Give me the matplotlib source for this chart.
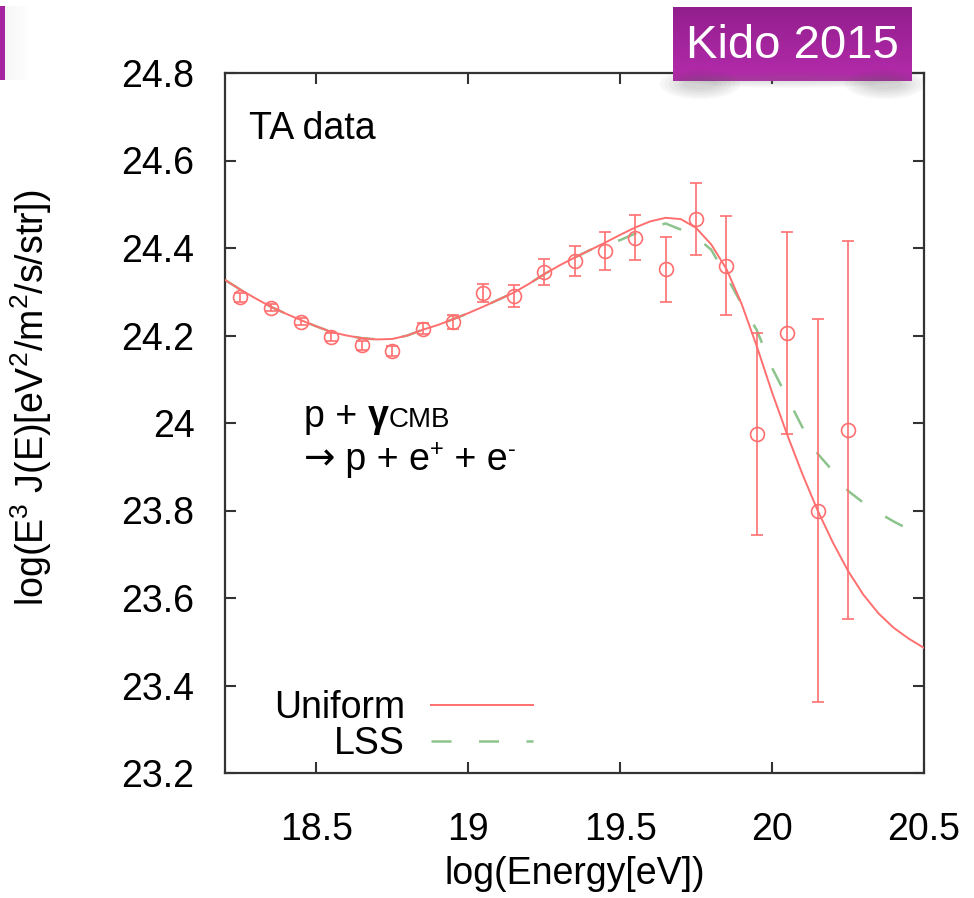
import numpy as np
import matplotlib
matplotlib.use('Agg')
import matplotlib.pyplot as plt
from matplotlib.patches import Rectangle, Ellipse
from matplotlib.transforms import offset_copy

plt.rcParams['font.family'] = ['Liberation Sans', 'DejaVu Sans']
plt.rcParams['mathtext.fontset'] = 'custom'
plt.rcParams['mathtext.rm'] = 'Liberation Sans'
plt.rcParams['mathtext.it'] = 'Liberation Sans:italic'
plt.rcParams['mathtext.bf'] = 'Liberation Sans:bold'

# TA data points (log E, log E^3 J, error)
ta_logE = [18.25, 18.35, 18.45, 18.55, 18.65, 18.75, 18.85, 18.95, 19.05, 19.15,
           19.25, 19.35, 19.45, 19.55, 19.65, 19.75, 19.85, 19.95, 20.05, 20.15, 20.25]
ta_flux = [24.287, 24.263, 24.232, 24.197, 24.178, 24.165, 24.216, 24.232, 24.297, 24.290,
           24.345, 24.370, 24.393, 24.424, 24.351, 24.466, 24.360, 23.975, 24.206, 23.800, 23.984]
ta_err = [0.010, 0.008, 0.009, 0.009, 0.010, 0.012, 0.013, 0.016, 0.020, 0.025,
          0.030, 0.034, 0.043, 0.052, 0.074, 0.082, 0.114, 0.230, 0.230, 0.437, 0.433]

# model curves
model_logE = [18.20, 18.25, 18.30, 18.35, 18.40, 18.45, 18.50, 18.55, 18.60, 18.65,
              18.70, 18.75, 18.80, 18.85, 18.90, 18.95, 19.00, 19.05, 19.10, 19.15,
              19.20, 19.25, 19.30, 19.35, 19.40, 19.45, 19.50, 19.55, 19.60, 19.65,
              19.70, 19.75, 19.80, 19.85, 19.90, 19.95, 20.00, 20.05, 20.10, 20.15,
              20.20, 20.25, 20.30, 20.35, 20.40, 20.45, 20.50]
uniform = [24.327, 24.305, 24.285, 24.266, 24.250, 24.235, 24.221, 24.208, 24.200, 24.194,
           24.191, 24.192, 24.200, 24.213, 24.224, 24.237, 24.251, 24.266, 24.282, 24.298,
           24.318, 24.340, 24.360, 24.378, 24.395, 24.412, 24.430, 24.447, 24.461, 24.469,
           24.466, 24.446, 24.408, 24.352, 24.272, 24.175, 24.070, 23.973, 23.883, 23.800,
           23.727, 23.662, 23.608, 23.565, 23.532, 23.507, 23.486]
lss = [24.327, 24.305, 24.285, 24.266, 24.250, 24.235, 24.221, 24.208, 24.200, 24.194,
       24.191, 24.192, 24.200, 24.213, 24.224, 24.237, 24.251, 24.266, 24.282, 24.298,
       24.318, 24.340, 24.360, 24.378, 24.395, 24.408, 24.418, 24.433, 24.447, 24.456,
       24.442, 24.425, 24.396, 24.335, 24.272, 24.212, 24.126, 24.058, 23.990, 23.930,
       23.890, 23.845, 23.818, 23.795, 23.775, 23.757, 23.745]

x_ticks = [18.5, 19, 19.5, 20, 20.5]
x_labels = ['18.5', '19', '19.5', '20', '20.5']
y_ticks = [23.2, 23.4, 23.6, 23.8, 24.0, 24.2, 24.4, 24.6, 24.8]
y_labels = ['23.2', '23.4', '23.6', '23.8', '24', '24.2', '24.4', '24.6', '24.8']

red = '#ff6f6f'
green = '#8cc48c'
fs = 27

fig = plt.figure(figsize=(9.74, 8.98), dpi=100)
ax = fig.add_axes([225 / 974, 125 / 898, 699 / 974, 700 / 898])

ax.plot(model_logE, uniform, color=red, lw=1.4, label='Uniform', zorder=3)
ax.plot(model_logE, lss, color=green, lw=1.8, dashes=(8, 11), label='LSS', zorder=2)
ax.errorbar(ta_logE, ta_flux, yerr=ta_err, fmt='o', mfc='none', mec=red, ms=10, mew=1.2,
            ecolor=red, elinewidth=1.2, capsize=4.5, capthick=1.2, zorder=4)

ax.set_xlim(18.2, 20.5)
ax.set_ylim(23.2, 24.8)
ax.set_xticks(x_ticks)
ax.set_xticklabels(x_labels)
ax.set_yticks(y_ticks)
ax.set_yticklabels(y_labels)
ax.tick_params(direction='in', length=8, width=1.5, labelsize=fs, top=True, right=True,
               color='#333333')
ax.tick_params(axis='x', pad=28)
ax.tick_params(axis='y', pad=22)
for sp in ax.spines.values():
    sp.set_linewidth(1.6)
    sp.set_color('#333333')

ax.set_xlabel('log(Energy[eV])', fontsize=fs, labelpad=6)
ax.set_ylabel(r'log(E$^3$ J(E)[eV$^2$/m$^2$/s/str])', fontsize=fs)
ax.yaxis.set_label_coords(-0.245, 0.536)

ax.text(18.28, 24.65, 'TA data', fontsize=fs, va='baseline')

# reaction annotation, pieces chained left to right
renderer = fig.canvas.get_renderer()
def chain(x, y, parts):
    for s, kw, rise in parts:
        tr = offset_copy(ax.transData, fig=fig, x=0, y=rise, units='points')
        t = ax.text(x, y, s, va='baseline', transform=tr, **kw)
        bb = t.get_window_extent(renderer)
        x = ax.transData.inverted().transform((bb.x1, bb.y0))[0]

chain(18.46, 23.99, [('p + ', dict(fontsize=fs), 0),
                     ('γ', dict(fontsize=fs, fontweight='bold'), 0),
                     ('CMB', dict(fontsize=20), 0)])
chain(18.46, 23.893, [('→', dict(fontsize=fs, family='DejaVu Sans'), 0),
                      (' p + e', dict(fontsize=fs), 0),
                      ('+', dict(fontsize=17), 10),
                      (' + e', dict(fontsize=fs), 0),
                      ('-', dict(fontsize=17), 10)])

h, l = ax.get_legend_handles_labels()
ax.legend(h, l, loc='lower left', bbox_to_anchor=(0.07, 0.015), frameon=False,
          markerfirst=False, handlelength=2.7, handletextpad=0.7, labelspacing=0.0,
          fontsize=fs, borderpad=0, borderaxespad=0)

# slide decorations: purple tab at the left edge and the "Kido 2015" label
for i in range(12):
    fig.patches.append(Rectangle((5 / 974 + i * 2 / 974, 818 / 898), 2 / 974, 74 / 898,
                                 transform=fig.transFigure, color='#888888',
                                 alpha=0.08 * (1 - i / 12), lw=0))
fig.patches.append(Rectangle((0, 818 / 898), 5 / 974, 74 / 898, transform=fig.transFigure,
                             color='#a5249f', lw=0))

# soft curled shadow under the label
for i in range(6):
    for cx in (700, 885):
        fig.patches.append(Ellipse((cx / 974, 814 / 898), (80 - 9 * i) / 974, (30 - 4 * i) / 898,
                                   transform=fig.transFigure, color='#555555', alpha=0.045, lw=0))
    fig.patches.append(Ellipse((792 / 974, 818 / 898), (230 - 12 * i) / 974, (16 - 2 * i) / 898,
                               transform=fig.transFigure, color='#777777', alpha=0.03, lw=0))

kax = fig.add_axes([673 / 974, 817 / 898, 239 / 974, 74 / 898])
grad = np.linspace(0, 1, 64).reshape(-1, 1)
cmap = matplotlib.colors.LinearSegmentedColormap.from_list('kido', ['#921e8d', '#b52bac'])
kax.imshow(grad, aspect='auto', cmap=cmap, extent=(0, 1, 0, 1))
kax.set_axis_off()
kax.text(0.5, 0.47, 'Kido 2015', color='white', fontsize=34, ha='center', va='center',
         transform=kax.transAxes)

fig.savefig('out.png', dpi=100)
